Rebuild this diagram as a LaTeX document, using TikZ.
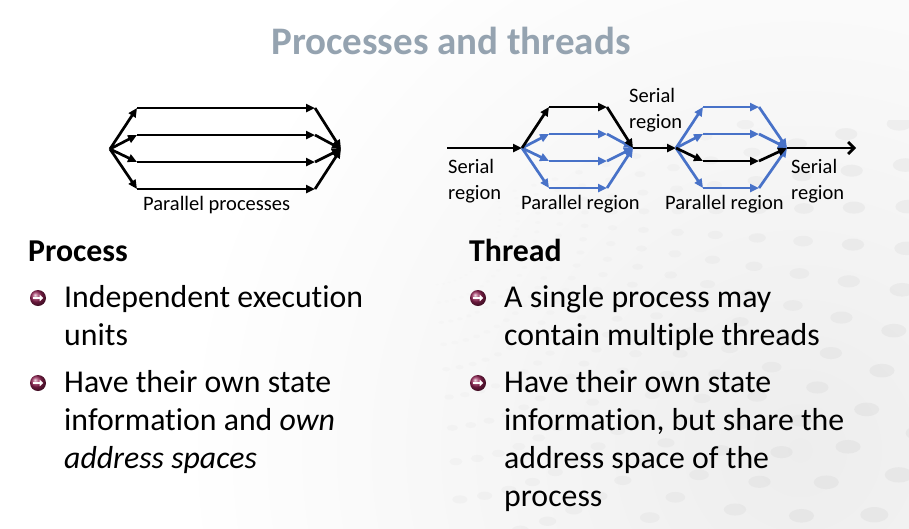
\documentclass[tikz,border=0pt]{standalone}
\usepackage{fontspec}
\setmainfont{Carlito}[Ligatures=NoCommon]
\usetikzlibrary{arrows.meta,calc}
\definecolor{flowblue}{RGB}{72,114,200}
\definecolor{titlegray}{RGB}{149,163,176}
\definecolor{orbred}{RGB}{150,35,85}
\definecolor{dotgray}{RGB}{150,150,150}
\begin{document}
\begin{tikzpicture}[x=1pt,y=-1pt,
  flow/.style={line width=2.7pt,-{Triangle[length=9pt,width=8pt]}},
  bflow/.style={flow,flowblue},
  kflow/.style={flow,black},
  lbl/.style={font=\fontsize{20.5}{26}\selectfont,inner sep=0pt,anchor=base west},
  body/.style={font=\fontsize{31.8}{38}\selectfont,inner sep=0pt,anchor=base west},
  head/.style={body,font=\fontsize{31.8}{38}\selectfont\bfseries},
  orb/.pic={
    \shade[ball color=orbred] (0,0) circle (8);
    \draw[white,line width=1.7pt,-{Triangle[length=3.6pt,width=6.5pt]}] (-4.8,0) -- (5.2,0);
  }]
\useasboundingbox (0,0) rectangle (909,528);
\fill[white] (0,0) rectangle (909,528);

% soft grey wash and dotted perspective backdrop in the lower right
\begin{scope}
  \clip (0,0) rectangle (909,528);
  \shade[inner color=black!7,outer color=white] (800,450) circle (620);
\end{scope}
\begin{scope}
  \clip (420,120) rectangle (909,528);
  \foreach \a in {-16,-11,...,84} {
    \foreach \r in {70,88,108,130,155,183,214,248,286,328,374,424,478,536} {
      \pgfmathsetmacro{\op}{min(0.09,\r/5000)}
      \fill[dotgray,opacity=\op] ($(430,215)+(\a:\r)$) ellipse ({\r/38} and {\r/70});
    }
  }
\end{scope}

% title
\node[font=\fontsize{39}{44}\selectfont\bfseries,text=titlegray,inner sep=0pt,anchor=base] (title) at (451,54) {Processes and threads};

% ---- parallel processes ----
\coordinate (pl) at (110,149);
\coordinate (pr) at (341,149);
\foreach \i/\y in {1/108,2/135,3/162,4/189} {
  \coordinate (pa\i) at (137,\y);
  \coordinate (pb\i) at (315,\y);
  \draw[kflow] (pl) -- (pa\i);
  \draw[kflow] (pa\i) -- (pb\i);
  \draw[kflow] (pb\i) -- (pr);
}
\node[lbl] (pproc) at (143,210) {Parallel processes};

% ---- threads: serial / parallel regions ----
\coordinate (s0) at (447,148);
\coordinate (f1) at (522,148);
\coordinate (j1) at (633,148);
\coordinate (f2) at (676,148);
\coordinate (j2) at (787,148);
\coordinate (s3) at (856,148);

\draw[kflow] (s0) -- (f1);
\foreach \i/\y/\c in {2/134/bflow,3/161/bflow,4/188/bflow,1/107/kflow} {
  \coordinate (ta\i) at (549,\y);
  \coordinate (tb\i) at (607,\y);
  \draw[\c] (f1) -- (ta\i);
  \draw[\c] (ta\i) -- (tb\i);
  \draw[\c] (tb\i) -- (j1);
}
\draw[kflow] (j1) -- (f2);
\foreach \i/\y/\c in {1/107/bflow,2/134/bflow,4/188/bflow,3/161/kflow} {
  \coordinate (ua\i) at (703,\y);
  \coordinate (ub\i) at (759,\y);
  \draw[\c] (f2) -- (ua\i);
  \draw[\c] (ua\i) -- (ub\i);
  \draw[\c] (ub\i) -- (j2);
}
\draw[line width=2.7pt,-{Straight Barb[length=6pt,width=12pt]}] (j2) -- (s3);

\node[lbl] (ser1a) at (448,173) {Serial};
\node[lbl] (ser1b) at (448,199) {region};
\node[lbl] (ser2a) at (629,102) {Serial};
\node[lbl] (ser2b) at (629,128) {region};
\node[lbl] (ser3a) at (791,173) {Serial};
\node[lbl] (ser3b) at (791,199) {region};
\node[lbl] (par1) at (521,209) {Parallel region};
\node[lbl] (par2) at (665,209) {Parallel region};

% ---- Process column ----
\node[head] (hproc) at (28,261) {Process};
\pic (o1) at (38,298) {orb};
\node[body] (p1a) at (64,307) {Independent execution};
\node[body] (p1b) at (64,345) {units};
\pic (o2) at (38,383) {orb};
\node[body] (p2a) at (64,392) {Have their own state};
\node[body] (p2b) at (64,430) {information and \emph{own}};
\node[body] (p2c) at (64,468) {\emph{address spaces}};

% ---- Thread column ----
\node[head] (hthr) at (469,261) {Thread};
\pic (o3) at (478,298) {orb};
\node[body] (t1a) at (504,307) {A single process may};
\node[body] (t1b) at (504,345) {contain multiple threads};
\pic (o4) at (478,383) {orb};
\node[body] (t2a) at (504,392) {Have their own state};
\node[body] (t2b) at (504,430) {information, but share the};
\node[body] (t2c) at (504,468) {address space of the};
\node[body] (t2d) at (504,506) {process};
\end{tikzpicture}
\end{document}
